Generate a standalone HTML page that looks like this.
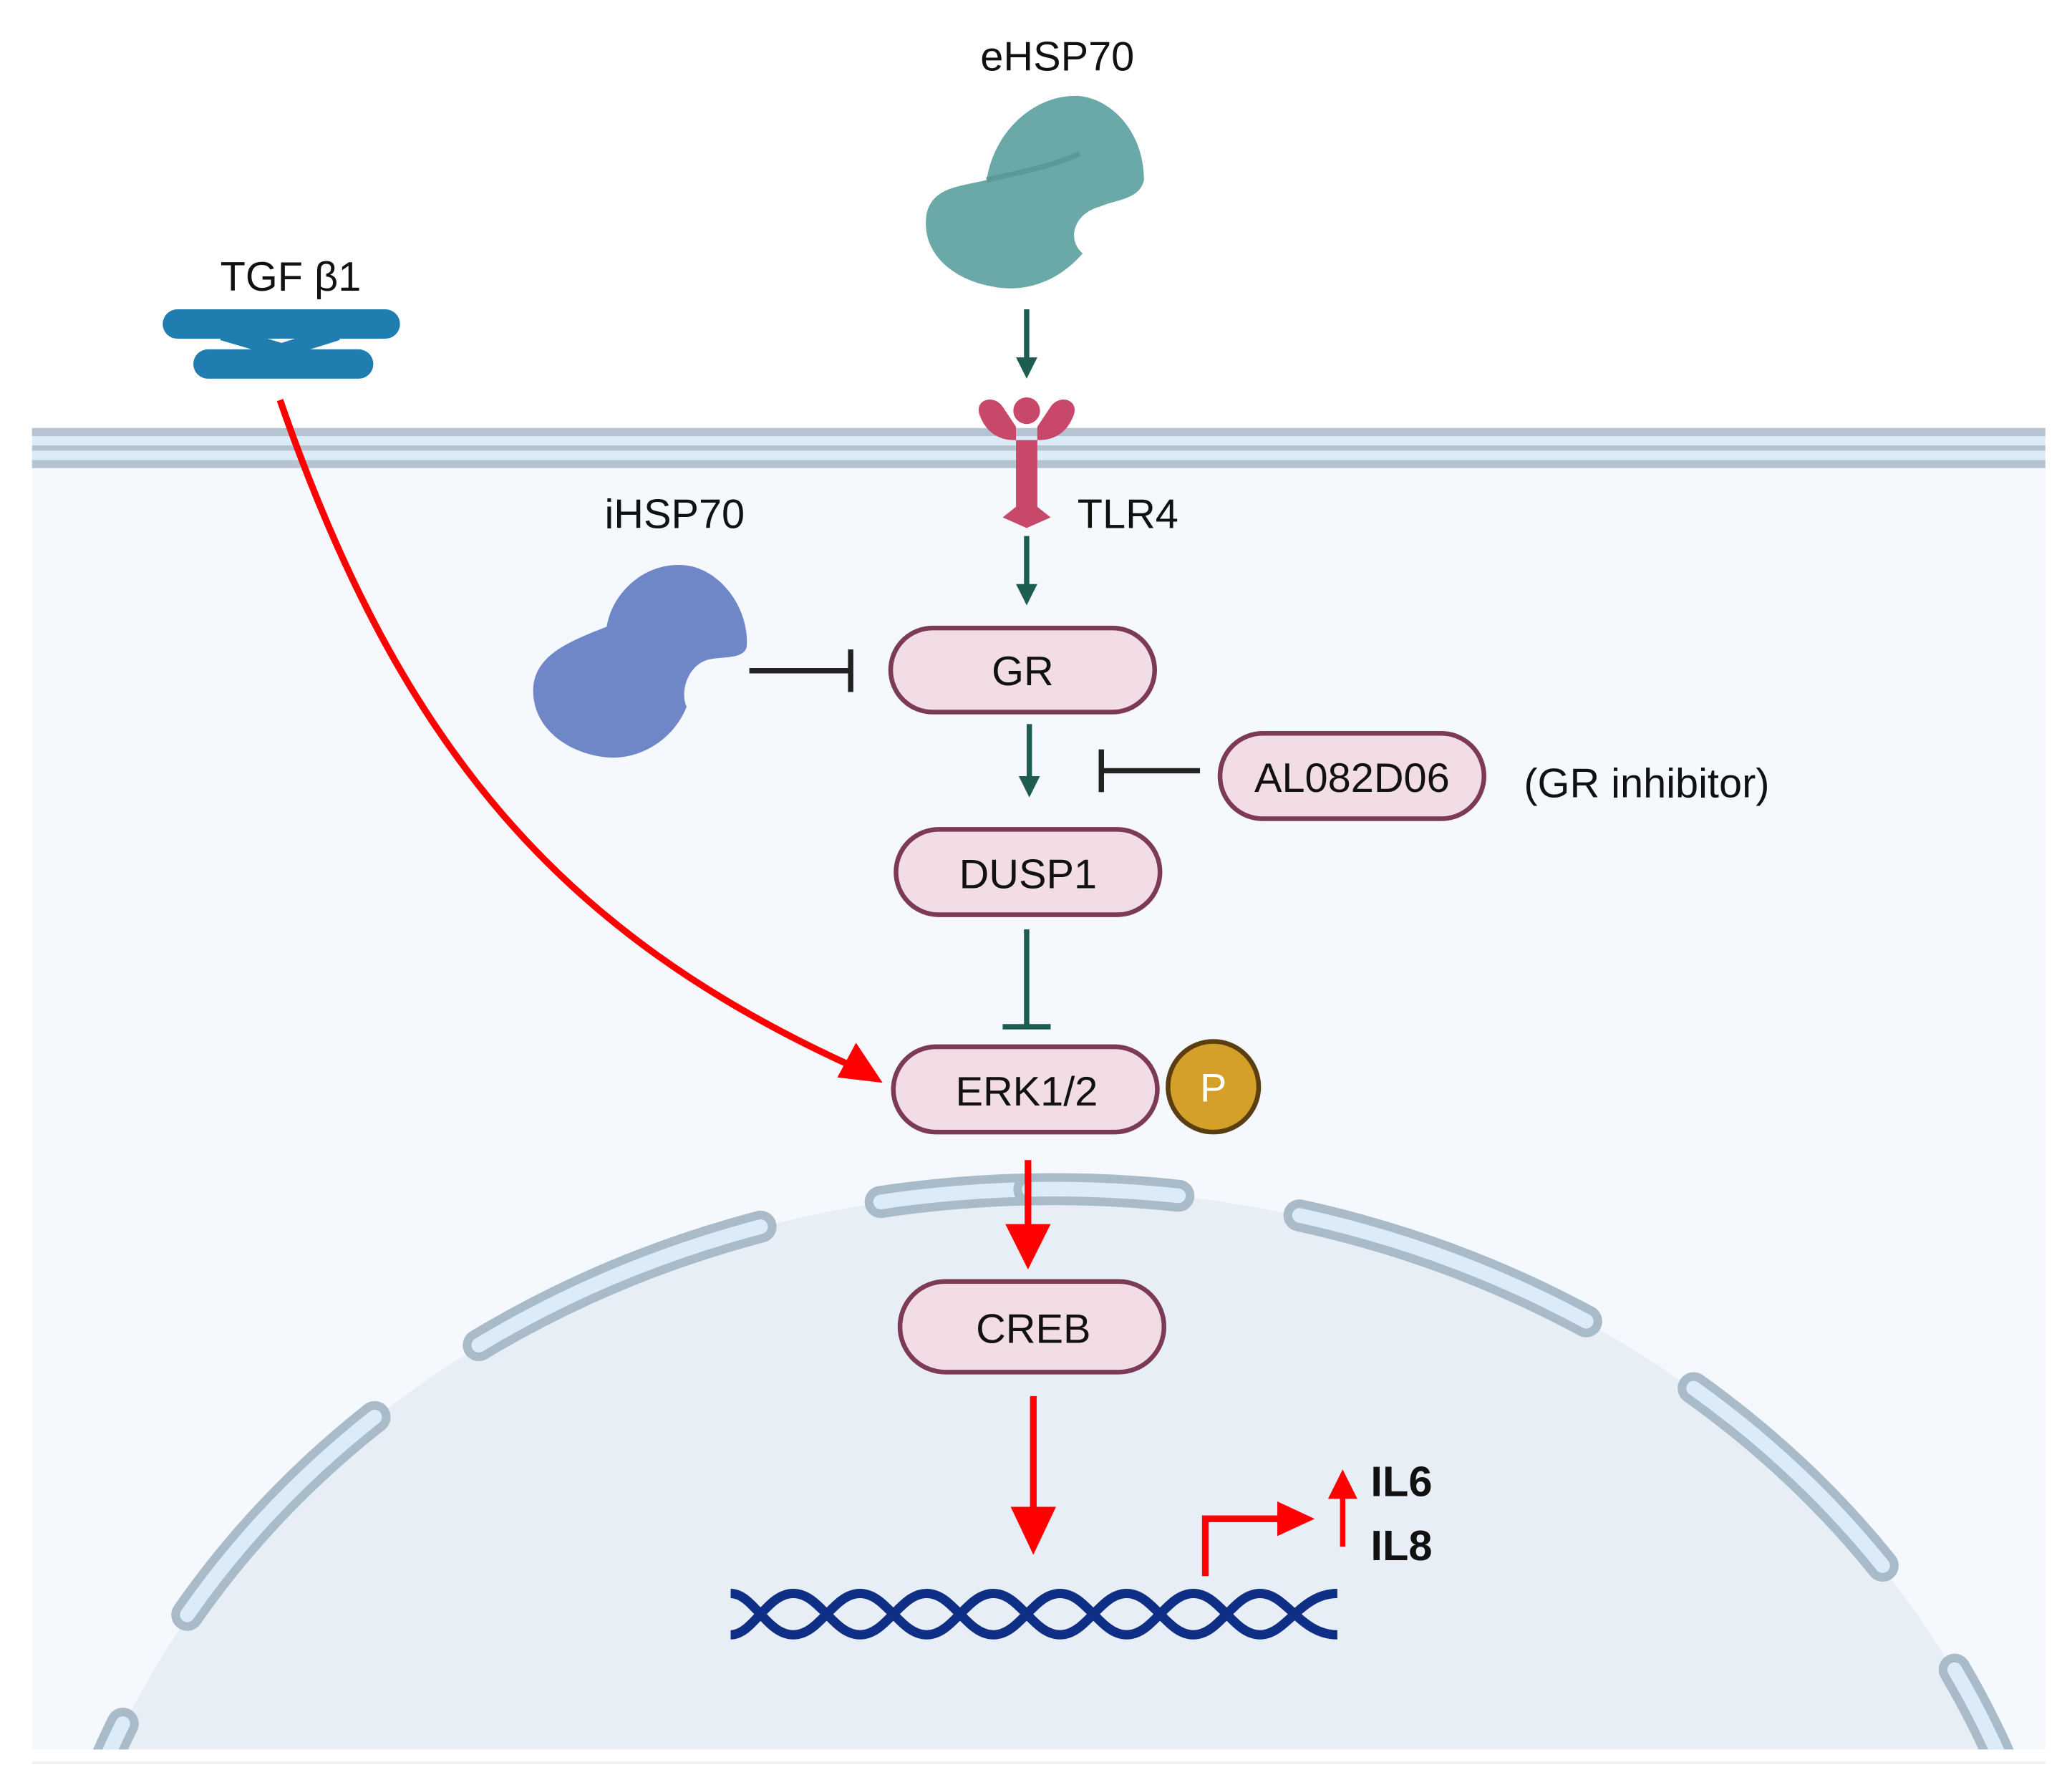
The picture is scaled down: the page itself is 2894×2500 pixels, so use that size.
<!DOCTYPE html>
<html><head><meta charset="utf-8"><style>html,body{margin:0;padding:0;background:#fff;width:2894px;height:2500px;overflow:hidden}svg{display:block}</style></head><body>
<svg width="2894" height="2500" viewBox="0 0 1554 1342.4" preserveAspectRatio="none" xmlns="http://www.w3.org/2000/svg" font-family="Liberation Sans, sans-serif">
<defs>
<clipPath id="c"><rect x="24" y="340" width="1510" height="972"/></clipPath>
<marker id="ag" markerWidth="4" markerHeight="4" refX="2" refY="2" orient="auto" markerUnits="strokeWidth"><path d="M0,0 L4,2 L0,4 Z" fill="#1e5e50"/></marker>
</defs>
<rect width="1554" height="1343" fill="#fff"/>
<rect x="24" y="340" width="1510" height="972" fill="#f5f9fd"/>
<line x1="24" y1="1322" x2="1534" y2="1322" stroke="#eef1f4" stroke-width="2"/>
<g clip-path="url(#c)">
<ellipse cx="790" cy="1560" rx="760" ry="668" fill="#e8eef6"/>
<g fill="none" stroke-linecap="round">
<path d="M772,892 A760,668 0 0 0 30,1600" stroke="#a9bac8" stroke-width="24" stroke-dasharray="112 92 230 95 205 95 300"/>
<path d="M772,892 A760,668 0 0 0 30,1600" stroke="#dcebf8" stroke-width="11" stroke-dasharray="112 92 230 95 205 95 300"/>
<path d="M772,892 A760,668 0 0 1 1550,1600" stroke="#a9bac8" stroke-width="24" stroke-dasharray="112 92 230 95 195 95 400"/>
<path d="M772,892 A760,668 0 0 1 1550,1600" stroke="#dcebf8" stroke-width="11" stroke-dasharray="112 92 230 95 195 95 400"/>
</g>
</g>
<rect x="24" y="321" width="1510" height="30" fill="#dcebf8"/>
<rect x="24" y="321" width="1510" height="6" fill="#b5c4d0"/>
<rect x="24" y="334" width="1510" height="4" fill="#b5c4d0"/>
<rect x="24" y="345" width="1510" height="6" fill="#b5c4d0"/>
<text x="793" y="53" font-size="31" text-anchor="middle" fill="#111">eHSP70</text>
<path d="M740,135 C745,100 775,70 810,72 C835,75 858,100 858,135 C855,150 835,150 825,155 C805,160 800,180 812,190 C795,210 770,220 745,215 C715,210 690,190 695,160 C700,140 720,140 740,135 Z" fill="#6aa9a8"/>
<path d="M740,135 C760,130 790,125 810,115" stroke="#5c9a99" stroke-width="4" fill="none"/>
<text x="218" y="218" font-size="31" text-anchor="middle" fill="#111">TGF β1</text>
<g fill="#1f7db0">
<rect x="122" y="232" width="178" height="22" rx="11"/>
<rect x="145" y="262" width="135" height="22" rx="11"/>
<path d="M170,245 L255,270 L250,280 L165,255 Z"/>
<path d="M250,245 L170,270 L175,280 L255,255 Z"/>
</g>
<line x1="770" y1="232" x2="770" y2="276" stroke="#1e5e50" stroke-width="4" marker-end="url(#ag)"/>
<line x1="770" y1="402" x2="770" y2="446" stroke="#1e5e50" stroke-width="4" marker-end="url(#ag)"/>
<line x1="772" y1="543" x2="772" y2="590" stroke="#1e5e50" stroke-width="4" marker-end="url(#ag)"/>
<g fill="#c8486a">
<path d="M735,312 C730,300 745,295 752,305 L762,320 L762,380 L752,388 L770,396 L788,388 L778,380 L778,320 L788,305 C795,295 810,300 805,312 C800,325 790,330 780,330 L760,330 C750,330 740,325 735,312 Z"/>
<circle cx="770" cy="308" r="10"/>
</g>
<text x="808" y="396" font-size="31" fill="#111">TLR4</text>
<text x="506" y="396" font-size="31" text-anchor="middle" fill="#111">iHSP70</text>
<path d="M455,470 C460,440 490,418 520,425 C545,432 562,460 560,485 C558,495 540,492 530,495 C515,500 510,520 515,530 C505,555 480,570 455,568 C425,565 398,545 400,515 C402,490 430,480 455,470 Z" fill="#6f87c6"/>
<line x1="562" y1="503" x2="638" y2="503" stroke="#222" stroke-width="4"/>
<line x1="638" y1="487" x2="638" y2="519" stroke="#222" stroke-width="4"/>
<g stroke="#7d3a55" stroke-width="3.5" fill="#f2dde6">
<rect x="668" y="471" width="198" height="63" rx="31.5"/>
<rect x="915" y="550" width="198" height="64" rx="32"/>
<rect x="672" y="622" width="198" height="64" rx="32"/>
<rect x="670" y="785" width="198" height="64" rx="32"/>
<rect x="675" y="961" width="198" height="68" rx="34"/>
</g>
<g font-size="31" text-anchor="middle" fill="#111">
<text x="767" y="514">GR</text>
<text x="1014" y="594">AL082D06</text>
<text x="771" y="666">DUSP1</text>
<text x="770" y="829">ERK1/2</text>
<text x="775" y="1007">CREB</text>
<text x="1235" y="598">(GR inhibitor)</text>
</g>
<line x1="900" y1="578" x2="826" y2="578" stroke="#222" stroke-width="4"/>
<line x1="826" y1="562" x2="826" y2="594" stroke="#222" stroke-width="4"/>
<line x1="770" y1="697" x2="770" y2="770" stroke="#1e5e50" stroke-width="4"/>
<line x1="752" y1="770" x2="788" y2="770" stroke="#1e5e50" stroke-width="4"/>
<circle cx="910" cy="815" r="34" fill="#d4a02a" stroke="#5a3d10" stroke-width="3.5"/>
<text x="910" y="826" font-size="30" text-anchor="middle" fill="#fff">P</text>
<path d="M210,300 C300,560 420,700 640,800" stroke="#f00" stroke-width="5" fill="none"/>
<path d="M662,812 L628,808 L642,782 Z" fill="#f00"/>
<line x1="771" y1="870" x2="771" y2="920" stroke="#f00" stroke-width="5"/>
<path d="M754,918 L788,918 L771,952 Z" fill="#f00"/>
<line x1="775" y1="1047" x2="775" y2="1132" stroke="#f00" stroke-width="5"/>
<path d="M758,1130 L792,1130 L775,1166 Z" fill="#f00"/>
<path d="M904,1182 L904,1139 L962,1139" stroke="#f00" stroke-width="5" fill="none"/>
<path d="M958,1126 L986,1139 L958,1152 Z" fill="#f00"/>
<line x1="1007" y1="1160" x2="1007" y2="1122" stroke="#f00" stroke-width="4"/>
<path d="M996,1124 L1018,1124 L1007,1102 Z" fill="#f00"/>
<text x="1028" y="1122" font-size="32" font-weight="bold" fill="#111">IL6</text>
<text x="1028" y="1170" font-size="32" font-weight="bold" fill="#111">IL8</text>
<g fill="none" stroke="#0f2f86" stroke-width="7">
<path d="M548,1195 C565,1195 575,1226 595,1226 C615,1226 625,1195 645,1195 C665,1195 675,1226 695,1226 C715,1226 725,1195 745,1195 C765,1195 775,1226 795,1226 C815,1226 825,1195 845,1195 C865,1195 875,1226 895,1226 C915,1226 925,1195 945,1195 C965,1195 975,1226 1003,1226"/>
<path d="M548,1226 C565,1226 575,1195 595,1195 C615,1195 625,1226 645,1226 C665,1226 675,1195 695,1195 C715,1195 725,1226 745,1226 C765,1226 775,1195 795,1195 C815,1195 825,1226 845,1226 C865,1226 875,1195 895,1195 C915,1195 925,1226 945,1226 C965,1226 975,1195 1003,1195"/>
</g>
</svg>
</body></html>
